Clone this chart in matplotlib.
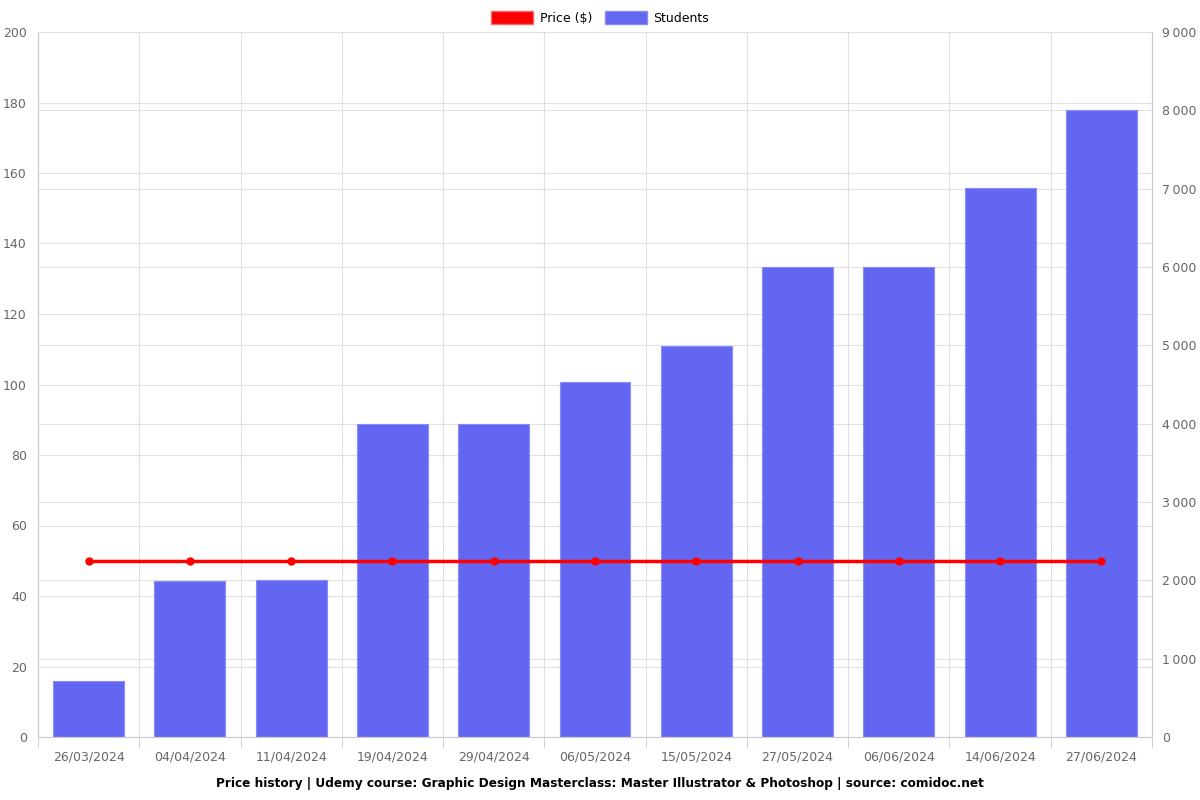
import numpy as np
import matplotlib.pyplot as plt
from matplotlib.ticker import FuncFormatter, MultipleLocator
from matplotlib.patches import Patch

dates = ['26/03/2024', '04/04/2024', '11/04/2024', '19/04/2024', '29/04/2024',
         '06/05/2024', '15/05/2024', '27/05/2024', '06/06/2024', '14/06/2024',
         '27/06/2024']
students = [715, 1990, 2005, 4000, 4000, 4530, 4990, 6000, 6000, 7010, 8005]
price = [50, 50, 50, 50, 50, 50, 50, 50, 50, 50, 50]

grid_c = '#e0e0e0'
txt_c = '#666666'

fig = plt.figure(figsize=(12, 8), dpi=100)
ax = fig.add_axes([38/1200, 63/800, 1114/1200, 705/800])
ax2 = ax.twinx()

x = np.arange(len(dates))
ax2.bar(x, students, width=0.7, color='#6366f1', edgecolor='#8a8cf5', linewidth=0.8, zorder=2)
ax2.set_ylim(0, 9000)
ax2.yaxis.set_major_locator(MultipleLocator(1000))
ax2.yaxis.set_major_formatter(FuncFormatter(lambda v, p: f'{int(v):,}'.replace(',', '\u2009')))

ax.set_ylim(0, 200)
ax.yaxis.set_major_locator(MultipleLocator(20))
ax.set_xlim(-0.5, len(dates) - 0.5)
ax.set_zorder(ax2.get_zorder() + 1)
ax.patch.set_visible(False)
ax.plot(x, price, color='#ff0000', linewidth=2.5, marker='o', markersize=5, zorder=5)

# gridlines for both y scales plus category boundaries
for v in np.arange(20, 201, 20):
    ax2.axhline(v * 45, color=grid_c, linewidth=0.8, zorder=0)
for v in np.arange(1000, 9001, 1000):
    ax2.axhline(v, color=grid_c, linewidth=0.8, zorder=0)
for b in np.arange(0.5, len(dates) - 0.5, 1):
    ax2.axvline(b, color=grid_c, linewidth=0.8, zorder=0)

ax.set_xticks(x)
ax.set_xticklabels(dates)
ax.set_xticks(np.arange(-0.5, len(dates), 1), minor=True)
ax.tick_params(axis='x', which='major', length=0, pad=10, labelsize=9, labelcolor=txt_c)
ax.tick_params(axis='x', which='minor', length=8, color='#cccccc')
ax.tick_params(axis='y', length=0, labelsize=9, labelcolor=txt_c, pad=8)
ax2.tick_params(axis='y', length=0, labelsize=9, labelcolor=txt_c, pad=7)

for a in (ax, ax2):
    for s in a.spines.values():
        s.set_color('#cccccc')
    a.spines['top'].set_visible(False)

handles = [Patch(facecolor='#ff0000', edgecolor='#ff6666'),
           Patch(facecolor='#6366f1', edgecolor='#8a8cf5')]
fig.legend(handles, ['Price ($)', 'Students'], loc='upper center', bbox_to_anchor=(0.5, 1.0),
           ncol=2, frameon=False, fontsize=9, handlelength=3.4, handleheight=1.2,
           columnspacing=1.0, handletextpad=0.5)

fig.text(0.5, 17/800, 'Price history | Udemy course: Graphic Design Masterclass: Master Illustrator & Photoshop | source: comidoc.net',
         ha='center', va='center', fontsize=8.7, fontweight='bold')

fig.savefig('out.png', dpi=100)
